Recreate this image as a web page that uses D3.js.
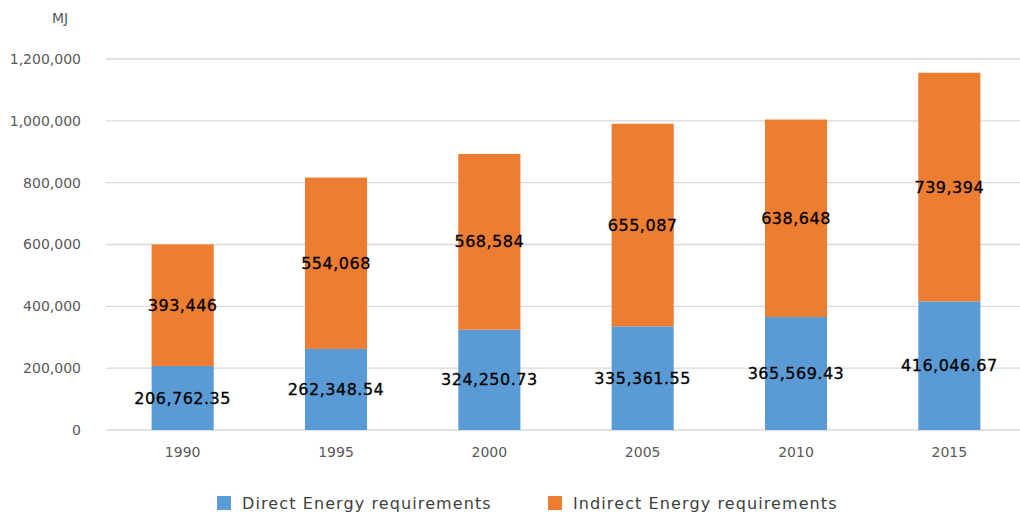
<!DOCTYPE html>
<html>
<head>
<meta charset="utf-8">
<script src="https://cdn.jsdelivr.net/npm/d3@7"></script>
<style>
  html, body { margin: 0; padding: 0; background: #fff; }
  svg { display: block; font-family: "DejaVu Sans", Verdana, sans-serif; }
</style>
</head>
<body>
<svg id="chart" width="1020" height="512"></svg>
<script>
// Energy requirements by year, in MJ
const years = ["1990", "1995", "2000", "2005", "2010", "2015"];
const directEnergy = [206762.35, 262348.54, 324250.73, 335361.55, 365569.43, 416046.67];
const indirectEnergy = [393446, 554068, 568584, 655087, 638648, 739394];
const directLabels = ["206,762.35", "262,348.54", "324,250.73", "335,361.55", "365,569.43", "416,046.67"];
const indirectLabels = ["393,446", "554,068", "568,584", "655,087", "638,648", "739,394"];
const yTicks = [0, 200000, 400000, 600000, 800000, 1000000, 1200000];
const seriesNames = ["Direct Energy requirements", "Indirect Energy requirements"];
const seriesColors = ["#5b9bd5", "#ed7d31"];

const svg = d3.select("#chart");

const x = d3.scaleBand().domain(years).range([106, 1026]).paddingInner(0.595).paddingOuter(0.2975);
const y = d3.scaleLinear().domain([0, 1200000]).range([430, 59]);

// Horizontal gridlines
svg.append("g").selectAll("line").data(yTicks).join("line")
  .attr("x1", 106).attr("x2", 1020)
  .attr("y1", d => y(d)).attr("y2", d => y(d))
  .attr("stroke", "#d9d9d9").attr("stroke-width", 1.3);

// Y axis tick labels
const yAxis = d3.axisLeft(y).tickValues(yTicks).tickSize(0).tickPadding(0)
  .tickFormat(d3.format(","));
const yg = svg.append("g").attr("transform", "translate(81,0)").call(yAxis);
yg.select(".domain").remove();
yg.selectAll("text").attr("fill", "#595959").style("font-size", "14px")
  .style("font-family", "DejaVu Sans, sans-serif");

// X axis category labels
const xAxis = d3.axisBottom(x).tickSize(0).tickPadding(0);
const xg = svg.append("g").attr("transform", "translate(0,447)").call(xAxis);
xg.select(".domain").remove();
xg.selectAll("text").attr("fill", "#595959").style("font-size", "14px")
  .style("font-family", "DejaVu Sans, sans-serif");

// Unit label
svg.append("text").attr("x", 60).attr("y", 23).attr("text-anchor", "middle")
  .attr("fill", "#595959").style("font-size", "14px").text("MJ");

// Stacked bars
const rows = years.map((yr, i) => ({ year: yr, direct: directEnergy[i], indirect: indirectEnergy[i] }));
const stack = d3.stack().keys(["direct", "indirect"]);
const layers = stack(rows);
const labelSets = [directLabels, indirectLabels];

layers.forEach((layer, li) => {
  const g = svg.append("g");
  g.selectAll("rect").data(layer).join("rect")
    .attr("x", d => x(d.data.year))
    .attr("width", x.bandwidth())
    .attr("y", d => y(d[1]))
    .attr("height", d => y(d[0]) - y(d[1]))
    .attr("fill", seriesColors[li]);
  g.selectAll("text").data(layer).join("text")
    .attr("x", d => x(d.data.year) + x.bandwidth() / 2)
    .attr("y", d => (y(d[0]) + y(d[1])) / 2)
    .attr("dy", "0.35em")
    .attr("text-anchor", "middle")
    .attr("fill", "#000")
    .style("font-size", "16px")
    .style("letter-spacing", "0.5px")
    .style("stroke", "#000").style("stroke-width", "0.3px")
    .text((d, i) => labelSets[li][i]);
});

// Legend
const legendX = [217, 548];
seriesNames.forEach((name, i) => {
  svg.append("rect").attr("x", legendX[i]).attr("y", 496).attr("width", 14).attr("height", 14)
    .attr("fill", seriesColors[i]);
  svg.append("text").attr("x", legendX[i] + 25).attr("y", 503).attr("dy", "0.35em")
    .attr("fill", "#404040").style("font-size", "16px").style("letter-spacing", "1.1px")
    .text(name);
});
</script>
</body>
</html>
